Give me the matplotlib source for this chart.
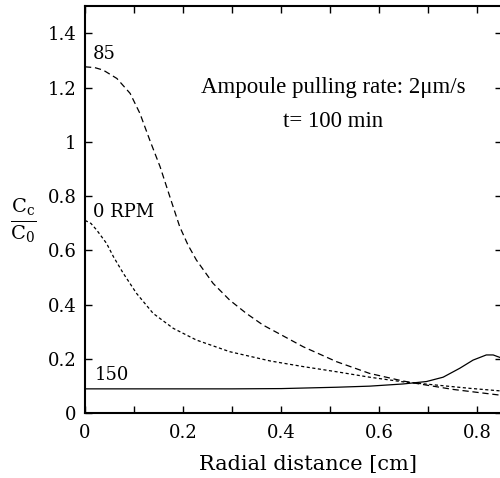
import matplotlib
matplotlib.use("Agg")
import matplotlib.pyplot as plt
import numpy as np

plt.rcParams["mathtext.fontset"] = "dejavuserif"

# radial concentration profiles
r_85 = [0, 0.02, 0.037, 0.065, 0.092, 0.112, 0.132, 0.153, 0.173, 0.193, 0.21, 0.227,
        0.261, 0.295, 0.329, 0.363, 0.397, 0.445, 0.513, 0.580, 0.648, 0.682, 0.750, 0.85]
c_85 = [1.277, 1.274, 1.265, 1.234, 1.179, 1.105, 1.007, 0.909, 0.798, 0.688, 0.62, 0.565,
        0.479, 0.417, 0.368, 0.325, 0.292, 0.245, 0.190, 0.147, 0.119, 0.108, 0.088, 0.066]

r_0 = [0, 0.012, 0.024, 0.044, 0.058, 0.078, 0.105, 0.139, 0.180, 0.227, 0.295, 0.377,
       0.445, 0.513, 0.580, 0.648, 0.716, 0.784, 0.85]
c_0 = [0.711, 0.700, 0.675, 0.626, 0.577, 0.516, 0.442, 0.368, 0.313, 0.270, 0.227, 0.193,
       0.172, 0.153, 0.133, 0.116, 0.104, 0.092, 0.082]

r_150 = [0, 0.1, 0.2, 0.3, 0.4, 0.513, 0.580, 0.648, 0.696, 0.730, 0.764, 0.791, 0.818,
         0.832, 0.85]
c_150 = [0.09, 0.09, 0.09, 0.09, 0.091, 0.096, 0.10, 0.108, 0.117, 0.133, 0.166, 0.196,
         0.215, 0.215, 0.203]

x_ticks = [0, 0.2, 0.4, 0.6, 0.8]
y_ticks = [0, 0.2, 0.4, 0.6, 0.8, 1, 1.2, 1.4]

tick_font = "DejaVu Serif"
text_font = "Liberation Serif"

fig = plt.figure(figsize=(5.0, 4.78), dpi=100)
ax = fig.add_axes([0.17, 0.1354, 0.834, 0.8514])

ax.plot(r_85, c_85, color="black", lw=0.9, linestyle=(0, (5, 3)))
ax.plot(r_0, c_0, color="black", lw=0.9, linestyle=(0, (2.5, 2)))
ax.plot(r_150, c_150, color="black", lw=0.9, linestyle="-")

ax.set_xlim(0, 0.85)
ax.set_ylim(0, 1.5)
ax.set_xticks(x_ticks)
ax.set_xticks(np.arange(0.1, 0.85, 0.2), minor=True)
ax.set_yticks(y_ticks)
ax.set_xticklabels(["%g" % v for v in x_ticks], fontfamily=tick_font, fontsize=13)
ax.set_yticklabels(["%g" % v for v in y_ticks], fontfamily=tick_font, fontsize=13)
ax.tick_params(which="both", direction="in", top=True, right=True, length=5, width=1)
ax.tick_params(axis="x", pad=8)
ax.tick_params(axis="y", pad=6)
for s in ax.spines.values():
    s.set_linewidth(1.5)

ax.set_xlabel("Radial distance [cm]", fontfamily=tick_font, fontsize=15, labelpad=9)
ax.xaxis.label.set_x(0.534)
ax.text(-0.149, 0.472, r"$\frac{\mathrm{C_c}}{\mathrm{C_0}}$", transform=ax.transAxes,
        fontsize=20, ha="center", va="center")

ax.text(0.016, 1.326, "85", fontfamily=tick_font, fontsize=13, va="center")
ax.text(0.016, 0.743, "0 RPM", fontfamily=tick_font, fontsize=13, va="center")
ax.text(0.02, 0.141, "150", fontfamily=tick_font, fontsize=13, va="center")

ax.text(0.507, 1.201, "Ampoule pulling rate: 2\u03bcm/s", fontfamily=text_font,
        fontsize=16.5, ha="center", va="center")
ax.text(0.505, 1.077, "t= 100 min", fontfamily=text_font, fontsize=16.5,
        ha="center", va="center")

fig.savefig("out.png", dpi=100)
